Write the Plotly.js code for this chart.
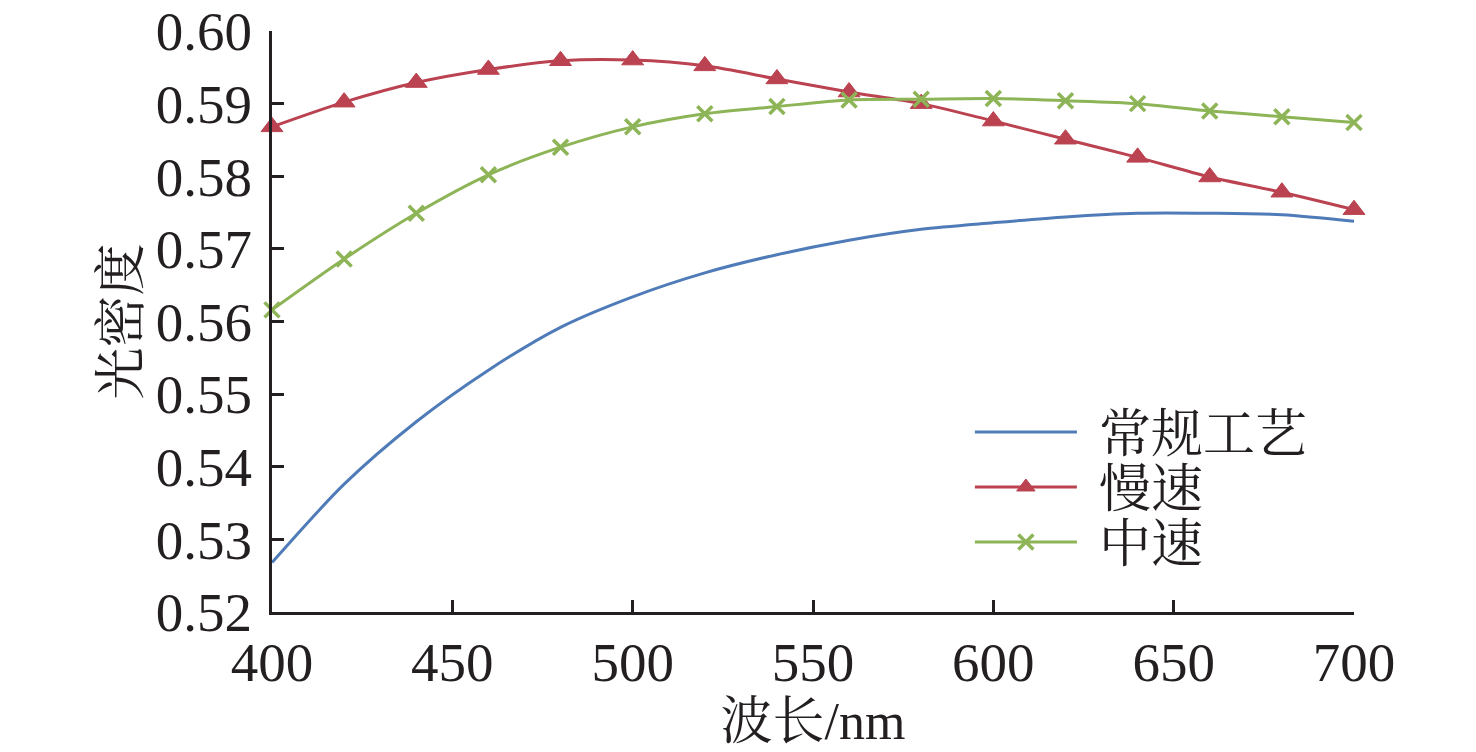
<!DOCTYPE html>
<html>
<head>
<meta charset="utf-8">
<script src="https://cdn.plot.ly/plotly-3.0.1.min.js"></script>
<style>
  html, body { margin: 0; padding: 0; background: #fff; }
  #chart { width: 1476px; height: 752px; }
</style>
</head>
<body>
<div id="chart"></div>
<script>
// wavelength (nm), every 20 nm
let wavelength = [400, 420, 440, 460, 480, 500, 520, 540, 560, 580, 600, 620, 640, 660, 680, 700];

// optical density per process
let conventional = [0.5268, 0.5376, 0.5462, 0.5533, 0.5592, 0.5634, 0.5667, 0.5692,
                    0.5712, 0.5727, 0.5736, 0.5744, 0.5749, 0.5749, 0.5747, 0.5738];
let slow = [0.5868, 0.5902, 0.5929, 0.5947, 0.5959, 0.5960, 0.5952, 0.5934,
            0.5916, 0.5900, 0.5876, 0.5851, 0.5826, 0.5799, 0.5778, 0.5754];
let medium = [0.5616, 0.5686, 0.5749, 0.5802, 0.5840, 0.5868, 0.5886, 0.5896,
              0.5905, 0.5906, 0.5907, 0.5904, 0.5900, 0.5890, 0.5882, 0.5874];

let series_names = ["常规工艺", "慢速", "中速"];
let x_ticks = [400, 450, 500, 550, 600, 650, 700];
let y_ticks = [0.52, 0.53, 0.54, 0.55, 0.56, 0.57, 0.58, 0.59, 0.60];

let text_color = "#231f20";
let font_family = "'Liberation Serif', 'Noto Serif CJK SC', 'Noto Sans CJK SC', serif";

let traces = [
    {
        x: wavelength, y: conventional, name: series_names[0],
        mode: 'lines',
        line: {color: '#4f7cb8', width: 3, shape: 'spline', smoothing: 0.8},
        cliponaxis: false,
    },
    {
        x: wavelength, y: slow, name: series_names[1],
        mode: 'lines+markers',
        line: {color: '#bb4250', width: 3, shape: 'spline', smoothing: 0.8},
        marker: {symbol: 'triangle-up', size: 19, color: '#bb4250',
                 line: {color: '#bb4250', width: 1}},
        cliponaxis: false,
    },
    {
        x: wavelength, y: medium, name: series_names[2],
        mode: 'lines+markers',
        line: {color: '#8db456', width: 3, shape: 'spline', smoothing: 0.8},
        marker: {symbol: 'x-thin', size: 15, color: '#8db456',
                 line: {color: '#8db456', width: 3.5}},
        cliponaxis: false,
    },
];

let axis_common = {
    showgrid: false,
    zeroline: false,
    showline: true,
    linecolor: text_color,
    linewidth: 3,
    ticks: 'inside',
    ticklen: 12,
    tickwidth: 3,
    tickcolor: text_color,
    tickfont: {family: font_family, size: 55, color: text_color},
};

let layout = {
    width: 1476,
    height: 752,
    margin: {t: 31, l: 272, r: 122, b: 140},
    paper_bgcolor: '#fff',
    plot_bgcolor: '#fff',
    font: {family: font_family, color: text_color},
    showlegend: true,
    legend: {
        x: 0.645, y: 0.215, xanchor: 'left', yanchor: 'middle',
        itemwidth: 119,
        bgcolor: 'rgba(0,0,0,0)',
        font: {family: font_family, size: 52, color: text_color},
    },
    xaxis: {
        ...axis_common,
        range: [400, 700],
        tickvals: x_ticks,
        ticktext: x_ticks.map(String),
        title: {text: '波长/nm', standoff: 8,
                font: {family: font_family, size: 52, color: text_color}},
    },
    yaxis: {
        ...axis_common,
        range: [0.52, 0.60],
        tickvals: y_ticks,
        ticktext: y_ticks.map((v) => v.toFixed(2)),
        ticklabelstandoff: 6,
        title: {text: '光密度', standoff: 0,
                font: {family: font_family, size: 52, color: text_color}},
    },
};

// legend touch-up: long line samples and tighter rows, as in the original
function tidy_legend() {
    let items = Array.from(document.querySelectorAll('#chart .legend .traces'));
    let parse = (g) => (g.getAttribute('transform') || '').match(/-?[\d.]+/g).map(Number);
    let [x0, y_mid] = parse(items[1]);
    items.forEach((g, i) => {
        g.setAttribute('transform', `translate(${x0},${y_mid + (i - 1) * 55})`);
        g.querySelectorAll('.legendlines path').forEach((p) => p.setAttribute('d', 'M5,0h102'));
        g.querySelectorAll('.legendpoints path').forEach((p) => p.setAttribute('transform', 'translate(56,0)'));
    });
}

Plotly.newPlot('chart', traces, layout, {staticPlot: true}).then(tidy_legend);
</script>
</body>
</html>
